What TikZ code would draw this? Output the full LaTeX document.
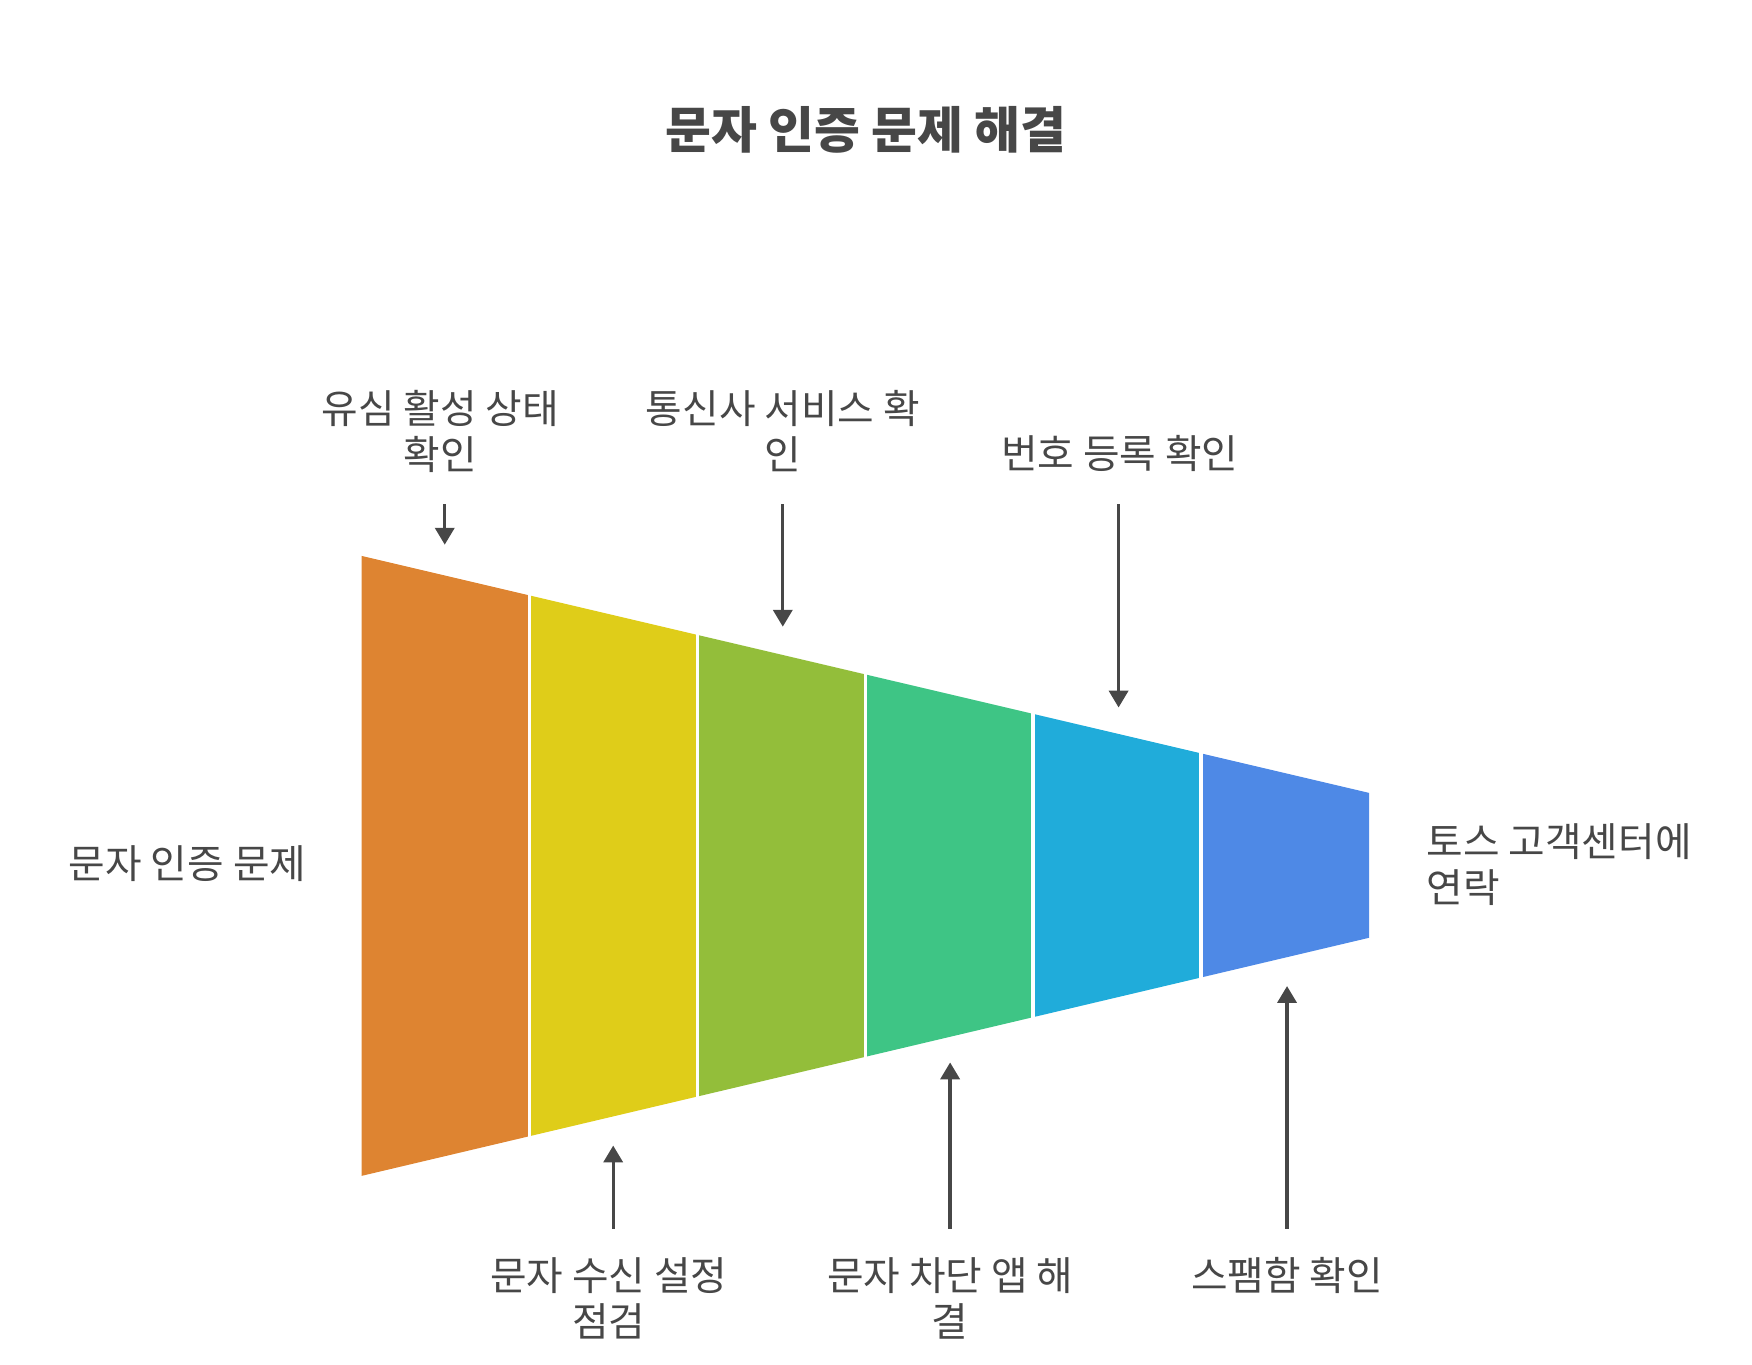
\documentclass[tikz,border=0pt]{standalone}
\usepackage{fontspec}
\setmainfont{Noto Sans CJK KR}
\usetikzlibrary{arrows.meta}
\definecolor{txt}{HTML}{474747}
\definecolor{c1}{HTML}{DE8431}
\definecolor{c2}{HTML}{DFCD19}
\definecolor{c3}{HTML}{93BE3A}
\definecolor{c4}{HTML}{3EC585}
\definecolor{c5}{HTML}{20ACDA}
\definecolor{c6}{HTML}{4E89E6}
\tikzset{
  lbl/.style={text=txt, font=\fontsize{17.7pt}{20.3pt}\selectfont, align=center, inner sep=0pt},
  arr/.style={draw=txt, line width=1.5pt, -{Triangle[length=7.5pt,width=8.5pt]}},
}
\begin{document}
\begin{tikzpicture}[x=0.5pt,y=-0.5pt]
\useasboundingbox (0,0) rectangle (1560,1215);
% funnel
\def\L{322}\def\R{1219}\def\Tt{495}\def\Tb{1047}\def\Rt{706}\def\Rb{835}
\foreach \i/\c in {0/c1,1/c2,2/c3,3/c4,4/c5,5/c6}{
  \pgfmathsetmacro{\xa}{\L+\i*(\R-\L)/6}
  \pgfmathsetmacro{\xb}{\L+(\i+1)*(\R-\L)/6}
  \pgfmathsetmacro{\ta}{\Tt+(\Rt-\Tt)/(\R-\L)*(\xa-\L)}
  \pgfmathsetmacro{\tb}{\Tt+(\Rt-\Tt)/(\R-\L)*(\xb-\L)}
  \pgfmathsetmacro{\ba}{\Tb+(\Rb-\Tb)/(\R-\L)*(\xa-\L)}
  \pgfmathsetmacro{\bb}{\Tb+(\Rb-\Tb)/(\R-\L)*(\xb-\L)}
  \fill[\c] (\xa,\ta) -- (\xb,\tb) -- (\xb,\bb) -- (\xa,\ba) -- cycle;
}
\foreach \i in {1,...,5}{
  \pgfmathsetmacro{\xa}{\L+\i*(\R-\L)/6}
  \pgfmathsetmacro{\ta}{\Tt+(\Rt-\Tt)/(\R-\L)*(\xa-\L)}
  \pgfmathsetmacro{\ba}{\Tb+(\Rb-\Tb)/(\R-\L)*(\xa-\L)}
  \draw[white, line width=1.6pt] (\xa,\ta-2) -- (\xa,\ba+2);
}
% title
\node[text=txt, font=\fontsize{22.2pt}{26pt}\selectfont\bfseries, inner sep=0pt] (title) at (771,116) {문자 인증 문제 해결};
% labels
\node[lbl] (l1) at (392,384) {유심 활성 상태\\확인};
\node[lbl] (l2) at (697,384) {통신사 서비스 확\\인};
\node[lbl] (l3) at (997,404) {번호 등록 확인};
\node[lbl] (b1) at (542,1156) {문자 수신 설정\\점검};
\node[lbl] (b2) at (846,1156) {문자 차단 앱 해\\결};
\node[lbl] (b3) at (1146,1136) {스팸함 확인};
\node[lbl] (left) at (167,769) {문자 인증 문제};
\node[lbl, align=left, anchor=west] (right) at (1270,770) {토스 고객센터에\\연락};
% arrow endpoints
\coordinate (a1s) at (396,449); \coordinate (a1e) at (396,485);
\coordinate (a2s) at (697,449); \coordinate (a2e) at (697,558);
\coordinate (a3s) at (996,449); \coordinate (a3e) at (996,630);
\coordinate (b1s) at (546,1094); \coordinate (b1e) at (546,1020);
\coordinate (b2s) at (846,1094); \coordinate (b2e) at (846,946);
\coordinate (b3s) at (1146,1094); \coordinate (b3e) at (1146,878);
\draw[arr] (a1s) -- (a1e);
\draw[arr] (a2s) -- (a2e);
\draw[arr] (a3s) -- (a3e);
\draw[arr] (b1s) -- (b1e);
\draw[arr] (b2s) -- (b2e);
\draw[arr] (b3s) -- (b3e);
\end{tikzpicture}
\end{document}
